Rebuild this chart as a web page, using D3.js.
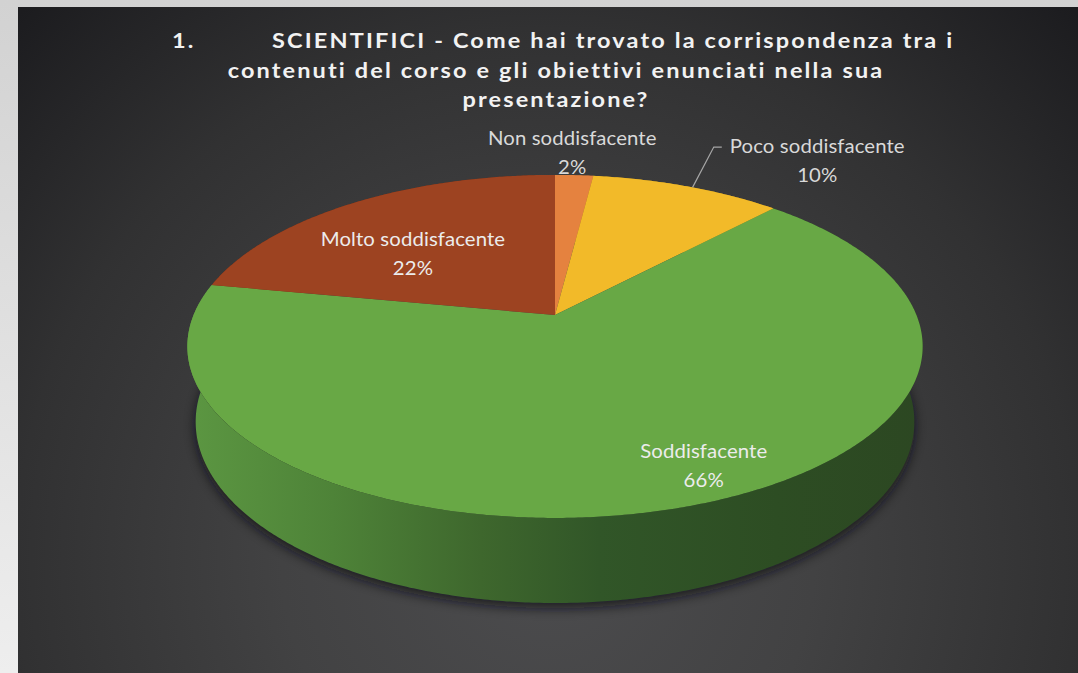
<!DOCTYPE html>
<html>
<head>
<meta charset="utf-8">
<script src="https://cdn.jsdelivr.net/npm/d3@7"></script>
<style>
  html, body { margin: 0; padding: 0; background: #d6d6d6; overflow: hidden; }
  svg { display: block; }
</style>
</head>
<body>
<svg id="chart" width="1078" height="673"></svg>
<script>
// Survey answers: share of respondents per rating
const categories = ["Non soddisfacente", "Poco soddisfacente", "Soddisfacente", "Molto soddisfacente"];
const values = [2, 10, 66, 22];
const percentLabels = ["2%", "10%", "66%", "22%"];
const sliceColors = ["#e5823f", "#f2ba29", "#68a845", "#9d4321"];

const titleLines = [
  "SCIENTIFICI - Come hai trovato la corrispondenza tra i",
  "contenuti del corso e gli obiettivi enunciati nella sua",
  "presentazione?"
];
const titleNumber = "1.";

// Label placement in the pie plane: radius (1 = rim) and turn from the slice mid-angle (deg)
const labelPlacement = [
  { r: 1.19, turn: -0.8, inside: false },
  { r: 1.42, turn: 12.8, inside: false, leaderTurn: 1.1 },
  { r: 0.857, turn: -6.3, inside: true },
  { r: 0.577, turn: -7.3, inside: true }
];

const W = 1078, H = 673;
const svg = d3.select("#chart");
const defs = svg.append("defs");

// ---- slide frame and dark panel ----
const frameGrad = defs.append("linearGradient").attr("id", "frame")
  .attr("x1", 0).attr("y1", 0).attr("x2", 0).attr("y2", 1);
frameGrad.append("stop").attr("offset", 0).attr("stop-color", "#d2d2d2");
frameGrad.append("stop").attr("offset", 1).attr("stop-color", "#eeeeee");
svg.append("rect").attr("width", W).attr("height", H).attr("fill", "url(#frame)");

const panelGrad = defs.append("radialGradient").attr("id", "panel")
  .attr("gradientUnits", "userSpaceOnUse")
  .attr("cx", 548).attr("cy", 560).attr("r", 760);
panelGrad.append("stop").attr("offset", 0).attr("stop-color", "#4c4c4e");
panelGrad.append("stop").attr("offset", 0.35).attr("stop-color", "#424243");
panelGrad.append("stop").attr("offset", 0.7).attr("stop-color", "#313132");
panelGrad.append("stop").attr("offset", 1).attr("stop-color", "#1c1c1f");
svg.append("rect").attr("x", 18).attr("y", 7).attr("width", W - 18).attr("height", H - 7)
  .attr("fill", "url(#panel)");

// ---- perspective projection of a flat disc ----
const cx = 555, cy = 315;          // screen position of the disc centre
const tilt = 27.3 * Math.PI / 180; // camera elevation
const sinT = Math.sin(tilt), cosT = Math.cos(tilt);
const dist = 4.853;                // camera distance in disc radii
const focal = 1754;                // focal length in pixels
const thickness = 0.2365;          // disc height in disc radii

function project(theta, r, y) {
  const x = r * Math.sin(theta), z = r * Math.cos(theta);
  const Y = z * sinT + y * cosT;
  const Z = dist + z * cosT - y * sinT;
  return [cx + focal * x / Z, cy - focal * Y / Z];
}

function rimPoints(a0, a1, y) {
  const n = Math.max(2, Math.ceil(Math.abs(a1 - a0) / (Math.PI / 360)));
  return d3.range(n + 1).map(i => project(a0 + (a1 - a0) * i / n, 1, y));
}

const pie = d3.pie().sort(null).value(d => d).startAngle(0).endAngle(2 * Math.PI);
const arcs = pie(values);
const line = d3.line();

// ---- soft shadow below the disc ----
const shadowBlur = defs.append("filter").attr("id", "shadowBlur")
  .attr("x", "-10%").attr("y", "-10%").attr("width", "120%").attr("height", "130%");
shadowBlur.append("feGaussianBlur").attr("stdDeviation", 6);
const bottomRim = rimPoints(Math.PI / 2 - 0.15, 3 * Math.PI / 2 + 0.15, -thickness).map(p => [p[0], p[1] + 5]);
svg.append("path")
  .attr("d", line(bottomRim) + "Z")
  .attr("fill", "#101012").attr("opacity", 0.75)
  .attr("filter", "url(#shadowBlur)");

// ---- side walls ----
const sideGrad = defs.append("linearGradient").attr("id", "sideGreen")
  .attr("gradientUnits", "userSpaceOnUse")
  .attr("x1", 185).attr("y1", 0).attr("x2", 925).attr("y2", 0);
[[0, "#5c9742"], [0.2, "#4e8338"], [0.4, "#3e672d"], [0.56, "#315628"], [0.8, "#2d4d23"], [1, "#2c4722"]]
  .forEach(([o, c]) => sideGrad.append("stop").attr("offset", o).attr("stop-color", c));

const sideFill = i => i === 2 ? "url(#sideGreen)" : d3.color(sliceColors[i]).darker(1).formatHex();

svg.append("g").selectAll("path")
  .data(arcs)
  .join("path")
  .attr("d", a => {
    const top = rimPoints(a.startAngle, a.endAngle, 0);
    const bot = rimPoints(a.endAngle, a.startAngle, -thickness);
    return line(top.concat(bot)) + "Z";
  })
  .attr("fill", (a, i) => sideFill(i));

// ---- top faces ----
svg.append("g").selectAll("path")
  .data(arcs)
  .join("path")
  .attr("d", a => line([project(0, 0, 0)].concat(rimPoints(a.startAngle, a.endAngle, 0))) + "Z")
  .attr("fill", (a, i) => sliceColors[i]);

// ---- data labels (slightly widened face, like the slide's typeface) ----
const labelFont = "Lato, 'Open Sans', sans-serif";
const labelStretch = 1.1;
const labels = svg.append("g").attr("font-family", labelFont).attr("font-size", 18.5)
  .attr("text-anchor", "middle").attr("letter-spacing", 0.1);

arcs.forEach((a, i) => {
  const pl = labelPlacement[i];
  const mid = (a.startAngle + a.endAngle) / 2;
  const [lx, ly] = project(mid + pl.turn * Math.PI / 180, pl.r, 0);
  const fill = pl.inside ? "#ececec" : "#d9d9d9";
  const t = labels.append("text").attr("fill", fill)
    .attr("transform", `translate(${lx},${ly}) scale(${labelStretch},1)`);
  t.append("tspan").attr("x", 0).attr("y", -8).text(categories[i]);
  t.append("tspan").attr("x", 0).attr("y", 21).text(percentLabels[i]);

  if (pl.leaderTurn !== undefined) {
    const start = project(mid + pl.leaderTurn * Math.PI / 180, 1, 0);
    const textW = t.select("tspan").node().getComputedTextLength() * labelStretch;
    const left = lx - textW / 2;
    const elbowY = ly - 14;
    svg.append("path")
      .attr("d", line([start, [left - 16, elbowY], [left - 8, elbowY]]))
      .attr("fill", "none").attr("stroke", "#a6a6a6").attr("stroke-width", 1.2);
  }
});

// ---- title ----
const titleStretch = 1.12;
const title = svg.append("g").attr("font-family", "Lato, 'Open Sans', sans-serif")
  .attr("font-weight", "bold").attr("font-size", 21).attr("fill", "#f2f2f2")
  .attr("letter-spacing", 1.9);
const titleRow = (x, y, anchor, txt) =>
  title.append("text").attr("transform", `translate(${x},${y}) scale(${titleStretch},1)`)
    .attr("text-anchor", anchor).text(txt);
titleRow(172, 48, "start", titleNumber);
titleRow(272, 48, "start", titleLines[0]);
titleRow(556, 78, "middle", titleLines[1]);
titleRow(556, 107, "middle", titleLines[2]);
</script>
</body>
</html>
